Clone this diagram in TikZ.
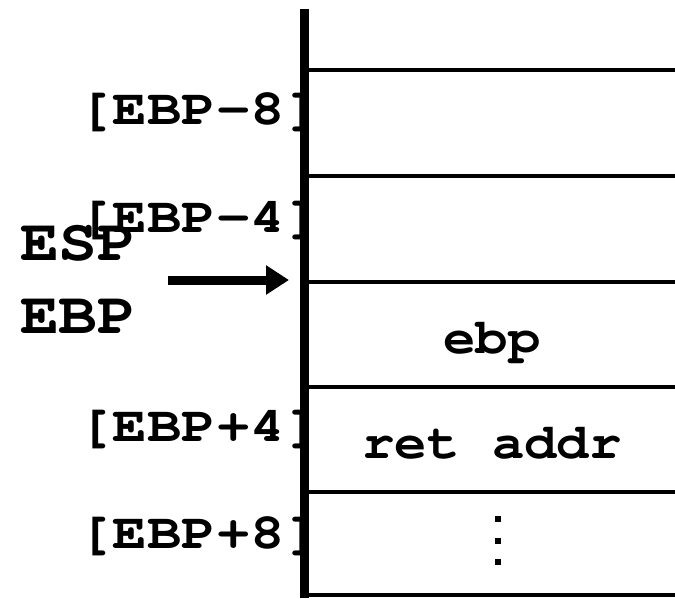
\documentclass[tikz,border=0pt]{standalone}
\usepackage[T1]{fontenc}
\usepackage{graphicx}
\usetikzlibrary{arrows.meta}
% Bold Courier for every label on the stack drawing
\newcommand\courb{\fontencoding{T1}\fontfamily{pcr}\fontseries{b}\fontshape{n}\selectfont}
\newcommand\offlabel[1]{\scalebox{1.15}[1]{\courb\fontsize{50}{60}\selectfont #1}}
\newcommand\cellword[1]{\scalebox{1.08}[1]{\courb\fontsize{50}{60}\selectfont #1}}
\newcommand\regname[1]{\scalebox{1.1}[1]{\courb\fontsize{59}{70}\selectfont #1}}
\tikzset{
  offset/.style={anchor=base west, inner sep=0pt, outer sep=0pt},
  content/.style={anchor=base, inner sep=0pt, outer sep=0pt},
  register/.style={anchor=base west, inner sep=0pt, outer sep=0pt},
  slotline/.style={line width=3.5pt},
  stackwall/.style={line width=9pt},
  pointer/.style={line width=9pt, -{Triangle[length=23pt,width=28pt]}},
  dot/.style={fill=black, inner sep=0pt, minimum size=6pt, rectangle}
}
\begin{document}
\begin{tikzpicture}[x=1pt,y=-1pt]
  \useasboundingbox (0,0) rectangle (675,598);
  % slot boundaries
  \foreach \yy/\nm in {70/a,176/b,282/c,387/d,492/e,595/f}{
    \coordinate (l\nm) at (309,\yy);
    \coordinate (r\nm) at (675,\yy);
    \draw[slotline] (l\nm) -- (r\nm);
  }
  % the stack's left wall
  \coordinate (wtop) at (304.5,9);
  \coordinate (wbot) at (304.5,598);
  \draw[stackwall] (wtop) -- (wbot);
  % offsets from the frame pointer
  \node[offset] (m8) at (78,124) {\offlabel{[EBP-8]}};
  \node[offset] (m4) at (78,232) {\offlabel{[EBP-4]}};
  \node[offset] (p4) at (78,441) {\offlabel{[EBP+4]}};
  \node[offset] (p8) at (78,548) {\offlabel{[EBP+8]}};
  % slot contents
  \node[content] (savedebp) at (492,353) {\cellword{ebp}};
  \node[content] (retaddr) at (492,458) {\cellword{ret addr}};
  \node[dot] (d1) at (498,519) {};
  \node[dot] (d2) at (498,541) {};
  \node[dot] (d3) at (498,562) {};
  % registers pointing at the saved frame pointer
  \node[register] (esp) at (20,260) {\regname{ESP}};
  \node[register] (ebp) at (20,333) {\regname{EBP}};
  \coordinate (tail) at (168,280);
  \coordinate (head) at (289,280);
  \draw[pointer] (tail) -- (head);
\end{tikzpicture}
\end{document}
